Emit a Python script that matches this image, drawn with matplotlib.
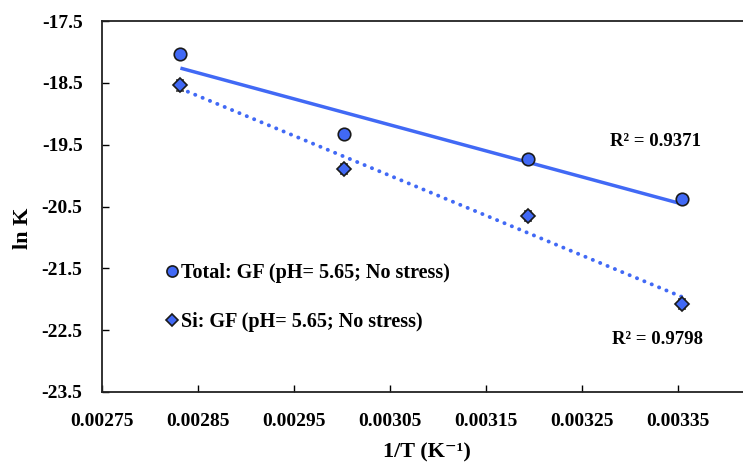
import numpy as np
import matplotlib
matplotlib.use("Agg")
import matplotlib.pyplot as plt
from matplotlib.lines import Line2D

# Data
inv_T = [0.0028317, 0.0030017, 0.0031934, 0.0033540]
total_lnK = [-18.04, -19.33, -19.73, -20.38]
si_lnK = [-18.54, -19.89, -20.66, -22.08]
total_err = [0.0, 0.0, 0.0, 0.0]
si_err = [0.09, 0.08, 0.08, 0.08]
total_label = "Total: GF (pH= 5.65; No stress)"
si_label = "Si: GF (pH= 5.65; No stress)"
r2_total = "R² = 0.9371"
r2_si = "R² = 0.9798"
x_ticks = [0.00275, 0.00285, 0.00295, 0.00305, 0.00315, 0.00325, 0.00335]
y_ticks = [-17.5, -18.5, -19.5, -20.5, -21.5, -22.5, -23.5]

plt.rcParams['font.family'] = ['Liberation Serif', 'DejaVu Serif']
plt.rcParams['font.weight'] = 'bold'

blue = "#4169F5"
W, H = 743, 466
fig = plt.figure(figsize=(W/100, H/100), dpi=100)
ax = fig.add_axes([102/W, 1-392/H, 1-102/W, (392-21)/H])

x = np.array(inv_T)
for yv, ls in ((total_lnK, '-'), (si_lnK, (0, (0.05, 2.0)))):
    p = np.polyfit(x, np.array(yv), 1)
    xx = np.array([x.min(), x.max()])
    ax.plot(xx, np.polyval(p, xx), color=blue, lw=2.5 if ls == '-' else 2.8,
            linestyle=ls, dash_capstyle='round', solid_capstyle='butt', zorder=2)

ax.errorbar(inv_T, si_lnK, yerr=si_err, fmt='D', color=blue, mec='#1a1a1a',
            mew=1.2, ms=7, ecolor='#444444', elinewidth=1, capsize=3, zorder=3,
            label=si_label)
ax.errorbar(inv_T, total_lnK, yerr=total_err, fmt='o', color=blue, mec='#1a1a1a',
            mew=1.2, ms=9, ecolor='#444444', elinewidth=1, capsize=0, zorder=3,
            label=total_label)

ax.set_xlim(0.00275, 0.0034177)
ax.set_ylim(-23.5, -17.5)
ax.set_xticks(x_ticks)
ax.set_xticklabels([f"{v:.5f}" for v in x_ticks])
ax.set_yticks(y_ticks)
ax.set_yticklabels([f"{v:.1f}" for v in y_ticks])
ax.tick_params(direction='in', length=5, width=1, labelsize=14)
ax.tick_params(axis='x', pad=15)
ax.tick_params(axis='y', pad=14)
for s in ax.spines.values():
    s.set_linewidth(1.3)
    s.set_color('#222222')
ax.spines['right'].set_visible(False)

ax.set_xlabel("1/T (K⁻¹)", fontsize=16, fontweight='bold')
ax.xaxis.set_label_coords((427-102)/641, -(442-392)/371)
ax.set_ylabel("ln K", fontsize=16, fontweight='bold')
ax.yaxis.set_label_coords(-(102-33)/641, (392-228)/371)

fig.text(656/W, 1-141/H, r2_total, fontsize=13.5, fontweight='bold',
         ha='center', va='center')
fig.text(657/W, 1-339/H, r2_si, fontsize=13.5, fontweight='bold',
         ha='center', va='center')

hh = [Line2D([], [], marker='o', ls='', color=blue, mec='#1a1a1a', mew=1.2, ms=8),
      Line2D([], [], marker='D', ls='', color=blue, mec='#1a1a1a', mew=1.2, ms=6)]
ax.legend(hh, [total_label, si_label], frameon=False, loc='upper left',
          bbox_to_anchor=((148-102)/641, 1-(245-21)/371),
          handlelength=0.6, handletextpad=0.15, labelspacing=1.45,
          prop={'weight': 'bold', 'size': 14.5})

fig.savefig("out.png", dpi=100)
